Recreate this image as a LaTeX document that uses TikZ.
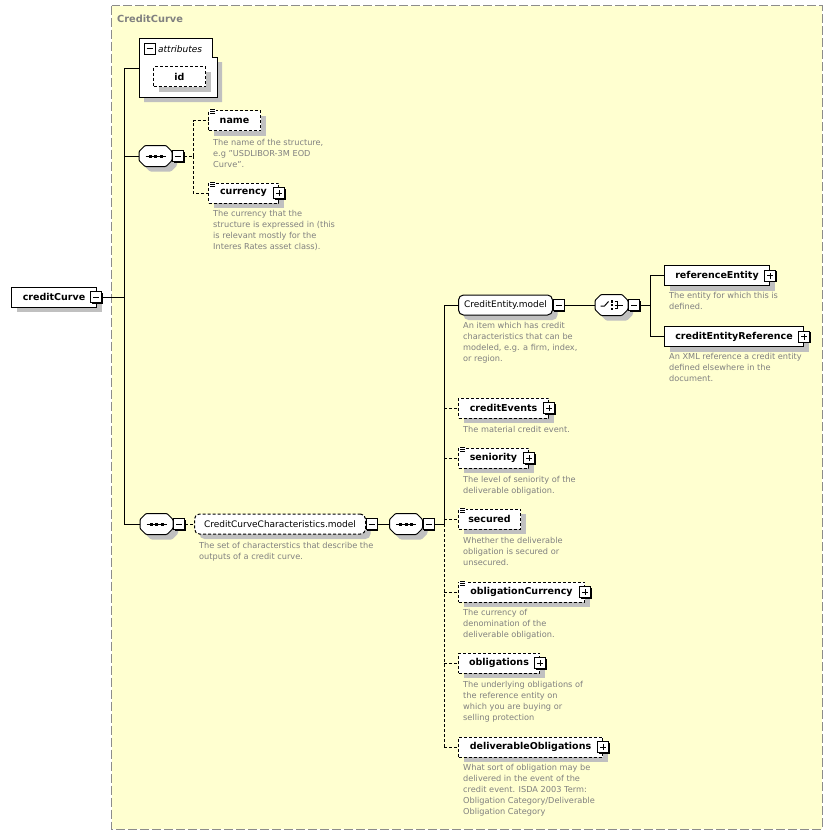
\documentclass[tikz,border=0pt]{standalone}
\usepackage{fontspec}
\setmainfont{DejaVu Sans}
\usetikzlibrary{shadows}
\definecolor{bgyellow}{RGB}{255,255,208}
\definecolor{shadowgray}{RGB}{192,192,192}
\definecolor{docgray}{RGB}{128,128,128}
\definecolor{framegray}{RGB}{140,140,140}
\tikzset{
  elem/.style={draw, fill=white, line width=1pt, minimum height=20pt, inner xsep=4pt, inner ysep=0pt, anchor=west,
    font=\fontsize{9.5}{11}\selectfont\bfseries,
    general shadow={fill=shadowgray, shadow xshift=5pt, shadow yshift=-5pt}},
  optelem/.style={elem, dash pattern=on 3pt off 2pt},
  grp/.style={elem, rounded corners=5pt, font=\fontsize{9}{11}\selectfont},
  optgrp/.style={grp, dash pattern=on 3pt off 2pt},
  pm/.style={draw, fill=white, line width=1pt, minimum size=11pt, inner sep=0pt, anchor=center,
    general shadow={fill=black, shadow xshift=1.2pt, shadow yshift=-1.2pt}},
  minusbox/.style={pm, path picture={\draw[black, line width=1pt] ([xshift=-3pt]path picture bounding box.center) -- ([xshift=3pt]path picture bounding box.center);}},
  plusbox/.style={pm, path picture={\draw[black, line width=1pt] ([xshift=-3pt]path picture bounding box.center) -- ([xshift=3pt]path picture bounding box.center) ([yshift=-3pt]path picture bounding box.center) -- ([yshift=3pt]path picture bounding box.center);}},
  doc/.style={anchor=north west, align=left, text=docgray, inner sep=0pt, font=\fontsize{8.2}{11}\selectfont},
  seqnode/.style={rectangle, draw=none, minimum width=33pt, minimum height=21pt, inner sep=0pt, outer sep=0pt},
  conn/.style={line width=1pt},
  optconn/.style={conn, dash pattern=on 3pt off 2pt},
}
\newcommand\octshape[1]{%
  \begin{scope}[shift={(#1.center)}]
    \fill[shadowgray, rounded corners=1pt] (-11.5,0.5) -- (-5.5,-5.5) -- (15.5,-5.5) -- (21.5,0.5) -- (21.5,9.5) -- (15.5,15.5) -- (-5.5,15.5) -- (-11.5,9.5) -- cycle;
    \draw[fill=white, line width=1pt, rounded corners=1pt] (-16.5,-4.5) -- (-10.5,-10.5) -- (10.5,-10.5) -- (16.5,-4.5) -- (16.5,4.5) -- (10.5,10.5) -- (-10.5,10.5) -- (-16.5,4.5) -- cycle;
  \end{scope}}
\newcommand\seqicon[1]{%
  \octshape{#1}%
  \begin{scope}[shift={(#1.center)}]
    \draw[line width=1pt] (-10,0) -- (10,0);
    \fill[black] (-7,-1.5) rectangle (-4,1.5);
    \fill[black] (-1.5,-1.5) rectangle (1.5,1.5);
    \fill[black] (4,-1.5) rectangle (7,1.5);
  \end{scope}}
\newcommand\choiceicon[1]{%
  \octshape{#1}%
  \begin{scope}[shift={(#1.center)}]
    \draw[line width=1pt] (-11,1) -- (-7,1) -- (-3,-3.5);
    \fill[black] (-1,-5) rectangle (1.5,-2.5);
    \fill[black] (-1,-1.2) rectangle (1.5,1.3);
    \fill[black] (-1,2.5) rectangle (1.5,5);
    \draw[line width=1pt] (3,-3.8) -- (6,-3.8) -- (6,3.8) -- (3,3.8) (3,0) -- (11,0);
  \end{scope}}
\newcommand\smpicon[1]{%
  \fill[white] ([shift={(1,-1)}]#1.north west) rectangle ([shift={(8,5)}]#1.north west);
  \foreach \d in {-0.5,1.5,3.5} \draw[line width=0.8pt] ([shift={(2,\d)}]#1.north west) -- ([shift={(7,\d)}]#1.north west);}
\begin{document}
\begin{tikzpicture}[x=1pt,y=-1pt]
\useasboundingbox (0,0) rectangle (832,835);
% frame
\draw[fill=bgyellow, draw=framegray, line width=1pt, dash pattern=on 9pt off 3pt] (111.5,5.5) rectangle (822,829);
\node[anchor=base west, inner sep=0pt, text=docgray, font=\fontsize{9.8}{11}\selectfont\bfseries] (title) at (117,23) {CreditCurve};

% root
\node[elem, minimum width=85pt] (cc) at (11,297) {creditCurve\hspace{4pt}};
\node[minusbox] (mcc) at ([xshift=-1pt]cc.east) {};

% trunk
\coordinate (ttop) at (124,68);
\coordinate (tbot) at (124,524);
\draw[conn] (mcc.east) -- (mcc.east -| ttop);
\draw[conn] (ttop) -- (tbot);

% attributes
\fill[shadowgray] (144,102) -- (144,97) -- (217,97) -- (217,62) -- (222,62) -- (222,102) -- cycle;
\draw[fill=white, line width=1pt] (139,38) -- (212,38) -- (212,57) -- (217,57) -- (217,97) -- (139,97) -- cycle;
\node[minusbox] (mattr) at (149.5,48.5) {};
\node[anchor=base west, inner sep=0pt, font=\fontsize{9}{11}\selectfont\itshape] (attrlbl) at (158,52) {attributes};
\coordinate (attrw) at (139,68);
\draw[conn] (ttop) -- (attrw);
\node[optelem, minimum width=52pt, font=\fontsize{9.5}{11}\selectfont\bfseries] (id) at (153,76.5) {id\hspace{24pt}};

% first sequence
\node[seqnode] (s1) at (155.5,156) {};
\seqicon{s1}
\node[minusbox] (ms1) at ([xshift=6pt]s1.east) {};
\draw[conn] (ttop |- s1.west) -- (s1.west);
\coordinate (b1) at (193,156);
\draw[optconn] (ms1.east) -- (b1);
\node[optelem, minimum width=52pt] (name) at (208,120.5) {name};
\smpicon{name}
\node[optelem, minimum width=70pt] (cur) at (208,193) {currency\hspace{8pt}};
\smpicon{cur}
\node[plusbox] (pcur) at (cur.east) {};
\draw[optconn] (b1) |- (name.west);
\draw[optconn] (b1) |- (cur.west);
\node[doc] (dname) at (213,139) {The name of the structure,\\e.g "USDLIBOR-3M EOD\\Curve".};
\node[doc] (dcur) at (213,210) {The currency that the\\structure is expressed in (this\\is relevant mostly for the\\Interes Rates asset class).};

% second sequence
\node[seqnode] (s2) at (156.5,524) {};
\seqicon{s2}
\node[minusbox] (ms2) at ([xshift=6pt]s2.east) {};
\draw[conn] (tbot) -- (s2.west);
\node[optgrp, minimum width=171pt] (ccc) at (194,524) {CreditCurveCharacteristics.model};
\node[minusbox] (mccc) at ([xshift=5.5pt]ccc.east) {};
\draw[optconn] (ms2.east) -- (ccc.west);
\node[doc] (dccc) at (199,542) {The set of characterstics that describe the\\outputs of a credit curve.};
\node[seqnode] (s3) at (406,524) {};
\seqicon{s3}
\node[minusbox] (ms3) at ([xshift=6pt]s3.east) {};
\draw[conn] (mccc.east) -- (s3.west);
\coordinate (u) at (444,524);
\coordinate (utop) at (444,305);
\coordinate (ubot) at (444,747);
\draw[conn] (ms3.east) -- (u);
\draw[conn] (utop) -- (u);
\draw[optconn] (u) -- (ubot);

% CreditEntity.model
\node[grp, minimum width=94pt] (ce) at (458,305) {CreditEntity.model};
\node[minusbox] (mce) at ([xshift=5.5pt]ce.east) {};
\draw[conn] (utop) -- (ce.west);
\node[doc] (dce) at (463,322) {An item which has credit\\characteristics that can be\\modeled, e.g. a firm, index,\\or region.};
\node[seqnode] (ch) at (611.5,305) {};
\choiceicon{ch}
\node[minusbox] (mch) at ([xshift=6pt]ch.east) {};
\draw[conn] (mce.east) -- (ch.west);
\coordinate (cv) at (650,305);
\draw[conn] (mch.east) -- (cv);
\node[elem, minimum width=105pt] (re) at (664,275.5) {referenceEntity\hspace{6pt}};
\node[plusbox] (pre) at (re.east) {};
\node[elem, minimum width=139pt] (cer) at (664,336.5) {creditEntityReference\hspace{6pt}};
\node[plusbox] (pcer) at (cer.east) {};
\draw[conn] (cv |- re.west) -- (cv |- cer.west);
\draw[conn] (cv |- re.west) -- (re.west);
\draw[conn] (cv |- cer.west) -- (cer.west);
\node[doc] (dre) at (669,292) {The entity for which this is\\defined.};
\node[doc] (dcer) at (669,353) {An XML reference a credit entity\\defined elsewhere in the\\document.};

% optional children
\node[optelem, minimum width=90pt] (cev) at (458,408) {creditEvents\hspace{6pt}};
\node[plusbox] (pcev) at (cev.east) {};
\draw[optconn] (u |- cev.west) -- (cev.west);
\node[doc] (dcev) at (463,426) {The material credit event.};

\node[optelem, minimum width=70pt] (sen) at (458,458) {seniority\hspace{6pt}};
\smpicon{sen}
\node[plusbox] (psen) at (sen.east) {};
\draw[optconn] (u |- sen.west) -- (sen.west);
\node[doc] (dsen) at (463,476) {The level of seniority of the\\deliverable obligation.};

\node[optelem, minimum width=62pt] (sec) at (458,519) {secured};
\smpicon{sec}
\draw[optconn] (u |- sec.west) -- (sec.west);
\node[doc] (dsec) at (463,537) {Whether the deliverable\\obligation is secured or\\unsecured.};

\node[optelem, minimum width=126pt] (oc) at (458,592) {obligationCurrency\hspace{6pt}};
\smpicon{oc}
\node[plusbox] (poc) at (oc.east) {};
\draw[optconn] (u |- oc.west) -- (oc.west);
\node[doc] (doc) at (463,609) {The currency of\\denomination of the\\deliverable obligation.};

\node[optelem, minimum width=81pt] (obl) at (458,663) {obligations\hspace{6pt}};
\node[plusbox] (pobl) at (obl.east) {};
\draw[optconn] (u |- obl.west) -- (obl.west);
\node[doc] (dobl) at (463,681) {The underlying obligations of\\the reference entity on\\which you are buying or\\selling protection};

\node[optelem, minimum width=144pt] (dob) at (458,747) {deliverableObligations\hspace{6pt}};
\node[plusbox] (pdob) at (dob.east) {};
\draw[optconn] (ubot) -- (dob.west);
\node[doc] (ddob) at (463,764) {What sort of obligation may be\\delivered in the event of the\\credit event. ISDA 2003 Term:\\Obligation Category/Deliverable\\Obligation Category};
\end{tikzpicture}
\end{document}
